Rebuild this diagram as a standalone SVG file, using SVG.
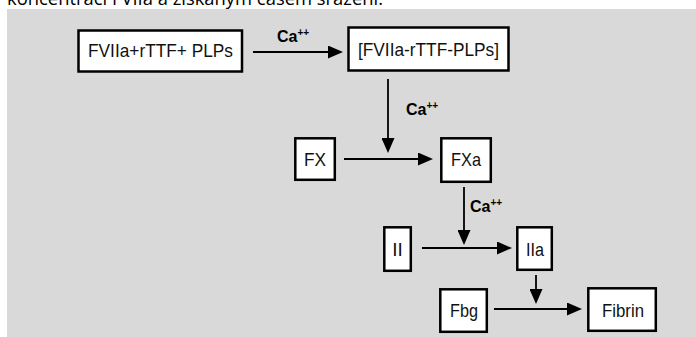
<svg xmlns="http://www.w3.org/2000/svg" width="696" height="337" viewBox="0 0 696 337">
  <style>
    .box { fill: #ffffff; stroke: #000000; stroke-width: 2.5; }
    .lbl { font-family: "Liberation Sans", Arial, sans-serif; font-size: 19px; fill: #111111; text-anchor: middle; }
    .ca { font-family: "Liberation Sans", Arial, sans-serif; font-size: 16px; font-weight: bold; fill: #000000; }
    .sup { font-size: 10px; }
    .conn { stroke: #000000; stroke-width: 1.8; fill: none; marker-end: url(#arrow); }
    .caption { font-family: "Open Sans", "Noto Sans", sans-serif; font-size: 18px; fill: #000000; }
  </style>
  <defs>
    <marker id="arrow" markerUnits="userSpaceOnUse" markerWidth="15" markerHeight="13" refX="5" refY="6.5" orient="auto">
      <path d="M0,0 L15,6.5 L0,13 Z" fill="#000000"/>
    </marker>
  </defs>

  <!-- page background and the caption line running off the top edge -->
  <rect x="0" y="0" width="696" height="337" fill="#ffffff"/>
  <text class="caption" x="7" y="5" textLength="376" lengthAdjust="spacingAndGlyphs">koncentrací FVIIa a získaným časem srážení.</text>
  <rect x="7" y="9" width="689" height="328" fill="#d9d9d9"/>

  <!-- connectors -->
  <g id="connectors">
    <line class="conn" x1="253" y1="52" x2="333" y2="52"/>
    <line class="conn" x1="388" y1="79" x2="388" y2="143"/>
    <line class="conn" x1="344" y1="159" x2="423" y2="159"/>
    <line class="conn" x1="464" y1="187" x2="464" y2="235"/>
    <line class="conn" x1="422" y1="248" x2="502" y2="248"/>
    <line class="conn" x1="536" y1="275" x2="536" y2="294"/>
    <line class="conn" x1="494" y1="309" x2="572" y2="309"/>
    <text class="ca" x="277" y="42">Ca<tspan class="sup" dy="-6">++</tspan></text>
    <text class="ca" x="406" y="115">Ca<tspan class="sup" dy="-6">++</tspan></text>
    <text class="ca" x="470" y="212">Ca<tspan class="sup" dy="-6">++</tspan></text>
  </g>

  <!-- nodes -->
  <g id="complex-mix">
    <rect class="box" x="78.5" y="30.5" width="163.5" height="41"/>
    <text class="lbl" x="160.5" y="57" textLength="145" lengthAdjust="spacingAndGlyphs">FVIIa+rTTF+ PLPs</text>
  </g>
  <g id="complex">
    <rect class="box" x="348.5" y="27.5" width="160" height="43"/>
    <text class="lbl" x="428.5" y="56" textLength="141" lengthAdjust="spacingAndGlyphs">[FVIIa-rTTF-PLPs]</text>
  </g>
  <g id="fx">
    <rect class="box" x="295.3" y="138.3" width="39.5" height="41.5"/>
    <text class="lbl" x="315" y="166" textLength="22" lengthAdjust="spacingAndGlyphs">FX</text>
  </g>
  <g id="fxa">
    <rect class="box" x="441.3" y="138.3" width="49.5" height="43.5"/>
    <text class="lbl" x="466" y="166" textLength="30" lengthAdjust="spacingAndGlyphs">FXa</text>
  </g>
  <g id="ii">
    <rect class="box" x="384.3" y="227.3" width="26.5" height="43.5"/>
    <text class="lbl" x="397.5" y="256">II</text>
  </g>
  <g id="iia">
    <rect class="box" x="517.3" y="227.3" width="34.5" height="42.5"/>
    <text class="lbl" x="535" y="256" textLength="18" lengthAdjust="spacingAndGlyphs">IIa</text>
  </g>
  <g id="fbg">
    <rect class="box" x="440.3" y="289.3" width="46.5" height="42.5"/>
    <text class="lbl" x="464" y="317" textLength="28" lengthAdjust="spacingAndGlyphs">Fbg</text>
  </g>
  <g id="fibrin">
    <rect class="box" x="588.3" y="288.3" width="67.5" height="42.5"/>
    <text class="lbl" x="623" y="317" textLength="42" lengthAdjust="spacingAndGlyphs">Fibrin</text>
  </g>
</svg>
